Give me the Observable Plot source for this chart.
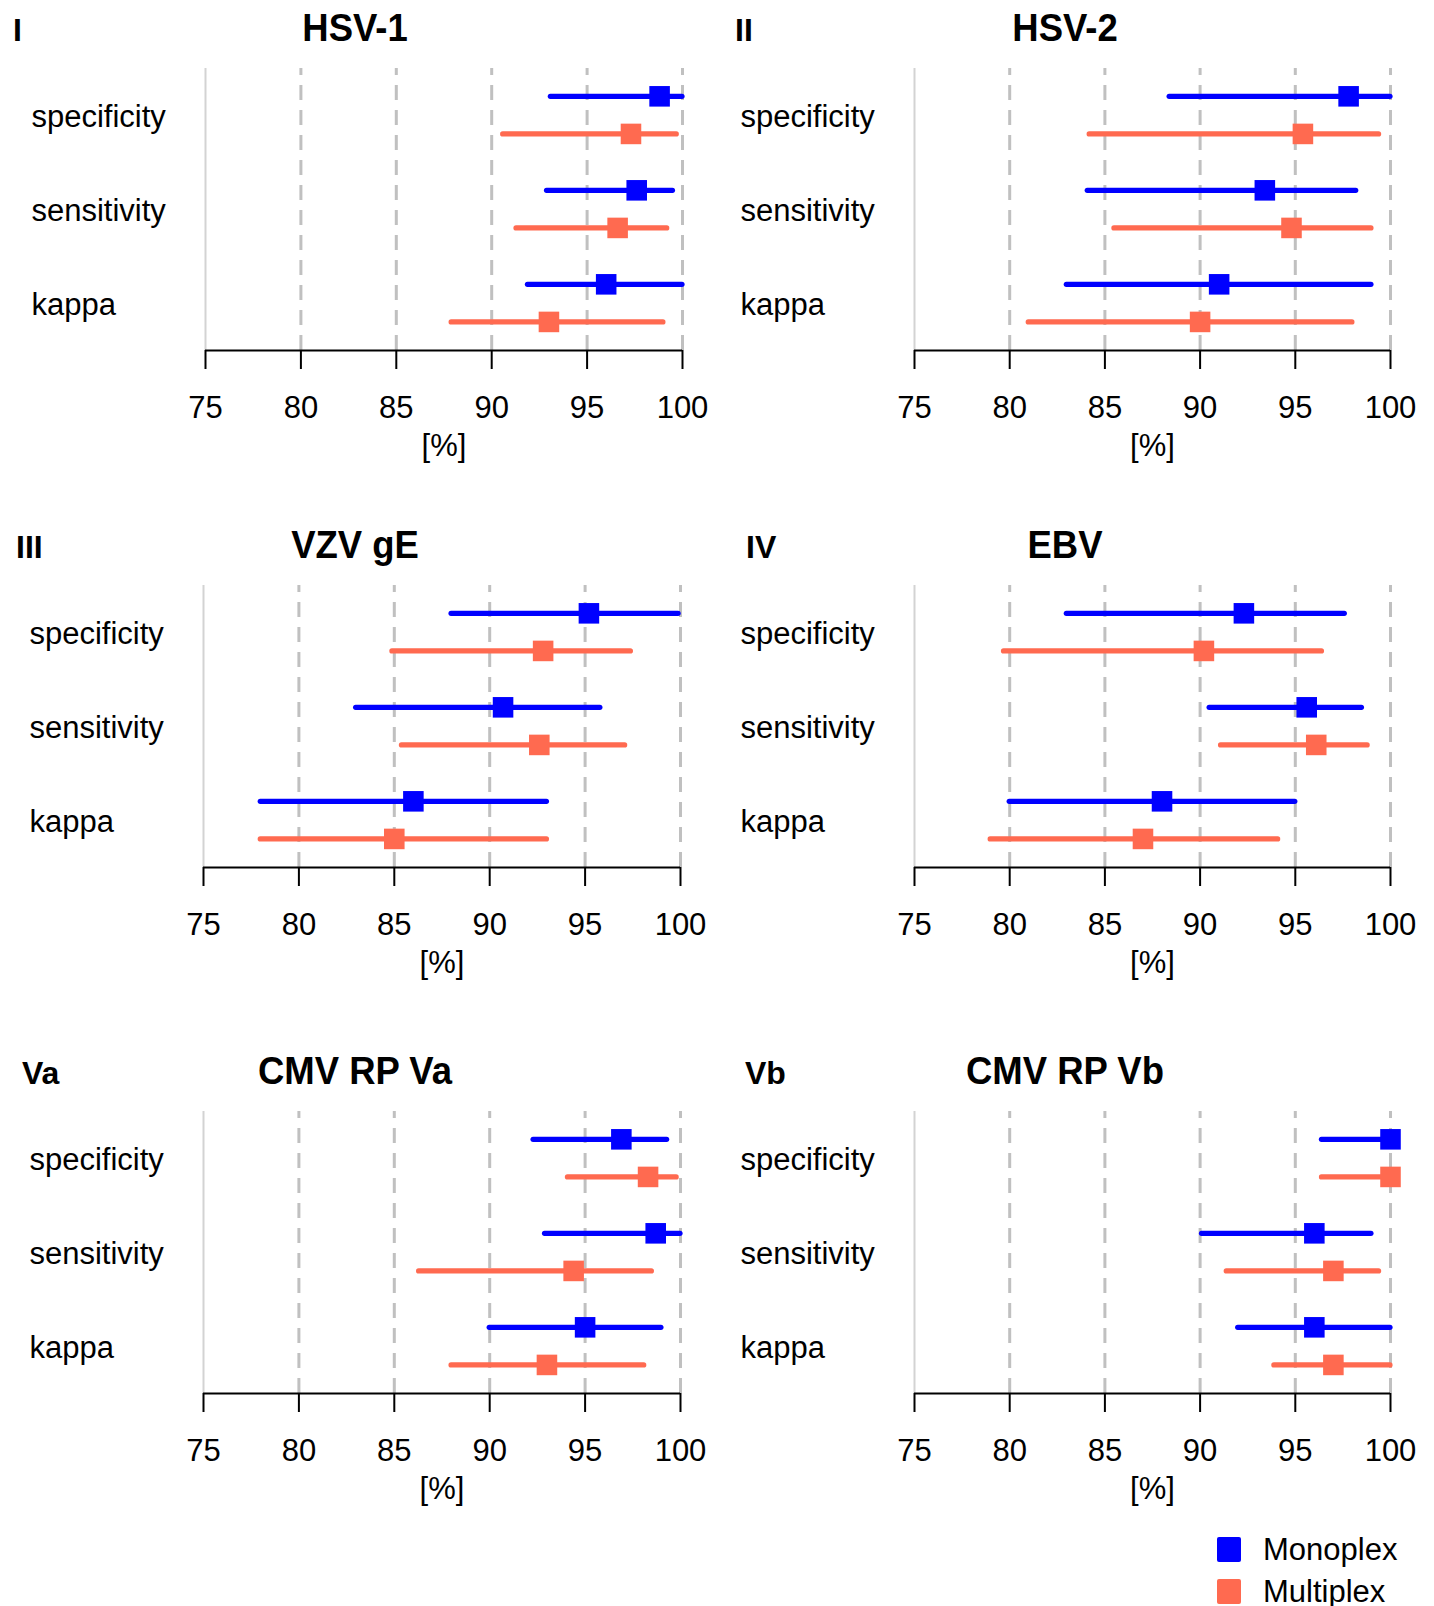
<!DOCTYPE html>
<html>
<head>
<meta charset="utf-8">
<script src="https://cdn.jsdelivr.net/npm/d3@7"></script>
<script src="https://cdn.jsdelivr.net/npm/@observablehq/plot@0.6"></script>
<style>
  body { margin: 0; background: #fff; font-family: "Liberation Sans", Arial, sans-serif; }
  #root { position: relative; width: 1434px; height: 1606px; overflow: hidden; background: #fff; }
  .abs { position: absolute; }
  .ptitle { font-weight: bold; font-size: 38px; transform: translate(-50%, -50%) scaleX(0.96); white-space: nowrap; line-height: 1; }
  .plabel { font-weight: bold; font-size: 32px; transform: translateY(-50%); white-space: nowrap; line-height: 1; }
  .legsq { width: 24px; height: 25px; border-radius: 2px; }
  .legtx { font-size: 31px; transform: translateY(-50%); line-height: 1; white-space: nowrap; }
</style>
</head>
<body>
<div id="root"></div>
<script>
// ---- data ----
const panelTitles = ["HSV-1", "HSV-2", "VZV gE", "EBV", "CMV RP Va", "CMV RP Vb"];
const panelLabels = ["I", "II", "III", "IV", "Va", "Vb"];
const metrics = ["specificity", "sensitivity", "kappa"];
const seriesNames = ["Monoplex", "Multiplex"];
const xTicks = [75, 80, 85, 90, 95, 100];
const xLabel = "[%]";

// per panel: [specificity, sensitivity, kappa]
const monoEst = [
  [98.8, 97.6, 96.0],
  [97.8, 93.4, 91.0],
  [95.2, 90.7, 86.0],
  [92.3, 95.6, 88.0],
  [96.9, 98.7, 95.0],
  [100.0, 96.0, 96.0]
];
const monoLo = [
  [93.1, 92.9, 91.9],
  [88.4, 84.1, 83.0],
  [88.0, 83.0, 78.0],
  [83.0, 90.5, 80.0],
  [92.3, 92.9, 90.0],
  [96.4, 90.1, 92.0]
];
const monoHi = [
  [100.0, 99.5, 100.0],
  [100.0, 98.2, 99.0],
  [99.9, 95.8, 93.0],
  [97.6, 98.5, 95.0],
  [99.3, 100.0, 99.0],
  [100.0, 99.0, 100.0]
];
const multiEst = [
  [97.3, 96.6, 93.0],
  [95.4, 94.8, 90.0],
  [92.8, 92.6, 85.0],
  [90.2, 96.1, 87.0],
  [98.3, 94.4, 93.0],
  [100.0, 97.0, 97.0]
];
const multiLo = [
  [90.6, 91.3, 87.9],
  [84.2, 85.5, 81.0],
  [84.9, 85.4, 78.0],
  [79.7, 91.1, 79.0],
  [94.1, 86.3, 88.0],
  [96.4, 91.4, 93.9]
];
const multiHi = [
  [99.7, 99.2, 99.0],
  [99.4, 99.0, 98.0],
  [97.4, 97.1, 93.0],
  [96.4, 98.8, 94.1],
  [99.8, 98.5, 98.1],
  [100.0, 99.4, 100.0]
];
const colors = ["#0000FF", "#FF6A50"];

// ---- layout ----
const root = document.getElementById("root");
const rowPlotTop = [67.6, 584.5, 1111];
const colX = [[[205, 682], [203, 680], [203, 680]], [[914, 1390], [914, 1390], [914, 1390]]];
const titleX = [355, 1065];
const labelX = [[13, 16, 22], [735, 746, 745]];
const plotH = 282;
const mTop = 10, mBottom = 125;
const font = "'Liberation Sans', Arial, sans-serif";

function metricY(mi, s) { // numeric row position: groups 2.5 apart, series 1 apart
  return (2 - mi) * 2.5 + (s === "Monoplex" ? 1 : 0);
}

panelTitles.forEach((title, i) => {
  const row = Math.floor(i / 2), col = i % 2;
  const [x75, x100] = colX[col][row];
  const svgLeft = col * 717;
  const plotTop = rowPlotTop[row];

  const rows = [];
  metrics.forEach((m, j) => {
    rows.push({metric: m, mi: j, series: "Monoplex", est: monoEst[i][j], lo: monoLo[i][j], hi: monoHi[i][j]});
    rows.push({metric: m, mi: j, series: "Multiplex", est: multiEst[i][j], lo: multiLo[i][j], hi: multiHi[i][j]});
  });

  const chart = Plot.plot({
    width: 717,
    height: mTop + plotH + mBottom,
    marginTop: mTop,
    marginBottom: mBottom,
    marginLeft: x75 - svgLeft,
    marginRight: svgLeft + 717 - x100,
    style: {fontFamily: font, fontSize: "31px", background: "white", color: "black", overflow: "visible"},
    x: {domain: [75, 100]},
    y: {domain: [-0.76, 6.74], axis: null},
    color: {domain: seriesNames, range: colors},
    marks: [
      Plot.ruleX([75], {stroke: "#d3d3d3", strokeWidth: 2}),
      Plot.ruleX(xTicks.slice(1), {stroke: "#c0c0c0", strokeWidth: 3, strokeDasharray: "15,10", strokeDashoffset: 8}),
      Plot.ruleY([-0.76], {x1: 75, x2: 100, stroke: "black", strokeWidth: 2}),
      Plot.axisX({ticks: xTicks, tickSize: 19, tickPadding: 26, strokeWidth: 2, fontSize: 31, label: null, tickFormat: d => String(d)}),
      Plot.ruleY(rows, {y: d => metricY(d.mi, d.series), x1: "lo", x2: "hi", stroke: "series", strokeWidth: 5.2, strokeLinecap: "round"}),
      Plot.dot(rows, {x: "est", y: d => metricY(d.mi, d.series), symbol: "square", r: 11.6, fill: "series", stroke: "none"}),
      Plot.text(metrics, {y: (d, j) => (2 - j) * 2.5 + 0.5, frameAnchor: "left", textAnchor: "start", dx: -174, dy: 2, text: d => d, fontSize: 31, fill: "black"}),
      Plot.text([xLabel], {x: () => 87.5, frameAnchor: "bottom", dy: 105.5, text: d => d, fontSize: 31, fill: "black"})
    ]
  });
  const wrap = document.createElement("div");
  wrap.className = "abs";
  wrap.style.left = svgLeft + "px";
  wrap.style.top = (plotTop - mTop) + "px";
  wrap.appendChild(chart);
  root.appendChild(wrap);

  const t = document.createElement("div");
  t.className = "abs ptitle";
  t.style.left = titleX[col] + "px";
  t.style.top = (plotTop - 40) + "px";
  t.textContent = title;
  root.appendChild(t);

  const l = document.createElement("div");
  l.className = "abs plabel";
  l.style.left = labelX[col][row] + "px";
  l.style.top = (plotTop - 38) + "px";
  l.textContent = panelLabels[i];
  root.appendChild(l);
});

// legend
seriesNames.forEach((s, k) => {
  const cy = 1549 + k * 42;
  const sq = document.createElement("div");
  sq.className = "abs legsq";
  sq.style.left = "1217px";
  sq.style.top = (cy - 12.5) + "px";
  sq.style.background = colors[k];
  root.appendChild(sq);
  const tx = document.createElement("div");
  tx.className = "abs legtx";
  tx.style.left = "1263px";
  tx.style.top = cy + "px";
  tx.textContent = s;
  root.appendChild(tx);
});
</script>
</body>
</html>
